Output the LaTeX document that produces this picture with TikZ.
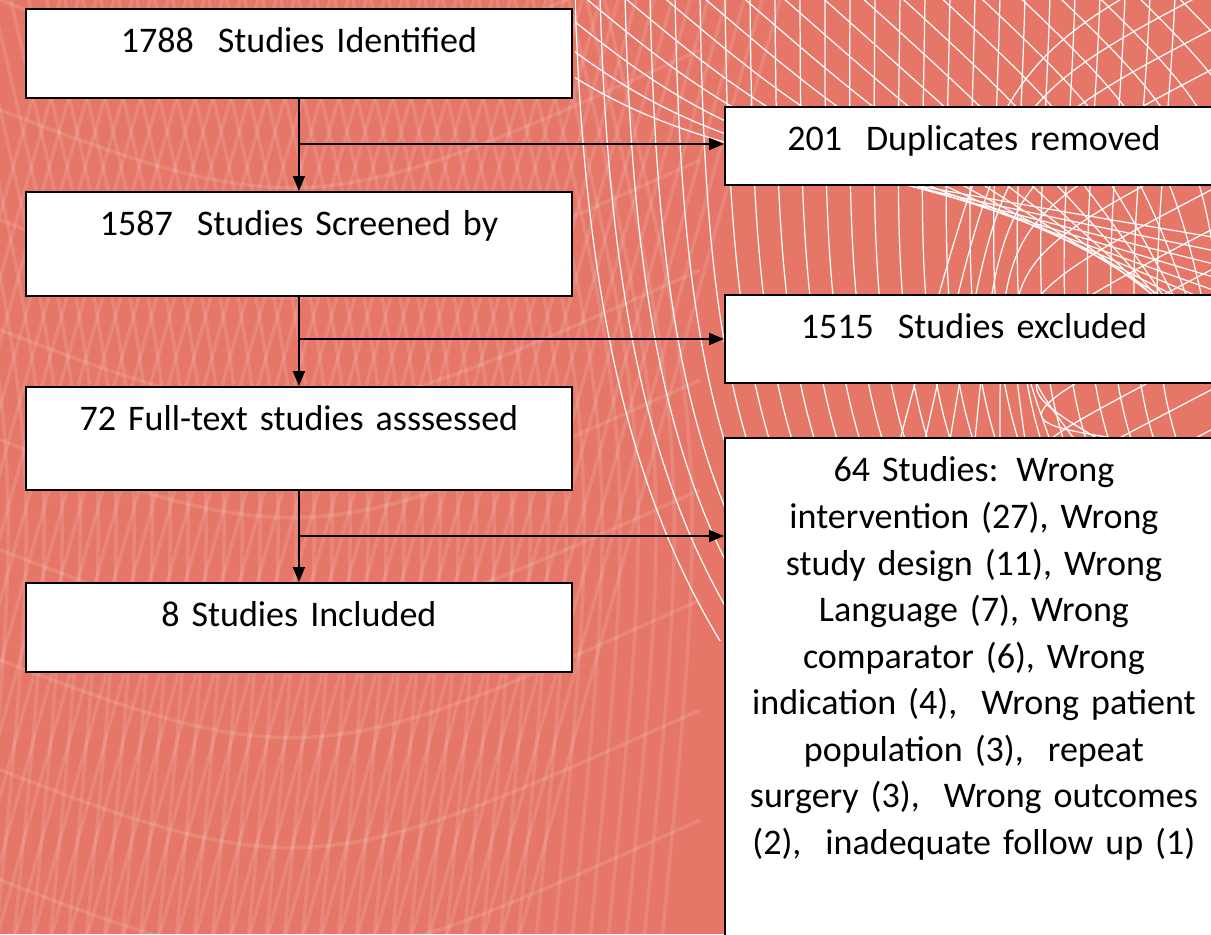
\documentclass[tikz,border=0pt]{standalone}
\usepackage{fontspec}
\setmainfont[WordSpace=0.55]{Carlito}
\usetikzlibrary{arrows.meta}

\definecolor{salmon}{RGB}{230,118,104}

\tikzset{
  box/.style={draw=black, fill=white, line width=1.1pt, align=center,
    inner xsep=0pt, inner ysep=0pt, text height=0.88cm,
    font=\fontsize{20.5}{26.5}\selectfont},
  leftbox/.style={box, text width=10.92cm, anchor=north west},
  rightbox/.style={box, text width=9.96cm, anchor=north west},
  arr/.style={line width=1.1pt, -{Triangle[length=0.3cm, width=0.24cm]}},
  mesh/.style={white, line width=0.7pt},
  faint/.style={white, opacity=0.12, line width=2pt},
}

\begin{document}
\begin{tikzpicture}[x=0.02cm, y=-0.02cm]
\useasboundingbox (0,0) rectangle (1211,934);
\clip (0,0) rectangle (1211,934);
\fill[salmon] (0,0) rectangle (1211,934);

% background pattern
\foreach \i in {0,...,40}
  \draw[faint] (\i*18-200,934) .. controls (\i*18-80,500) .. (\i*18+60,0);
\foreach \i in {0,...,40}
  \draw[faint] (\i*18-60,960) .. controls (\i*18-10,450) .. (\i*18-120,-20);
\foreach \i in {0,...,8}
  \draw[faint] (-100,\i*110-40) .. controls (300,\i*110+120) .. (700,\i*110-60);
\begin{scope}
  \clip (575,0) rectangle (1211,640);
  \foreach \i in {0,...,24}
    \draw[mesh] (575+\i*25,-5) .. controls (585+\i*24,330) and (640+\i*18,540) .. (760+\i*30,700);
  \foreach \i in {0,...,22}
    \draw[mesh] (420+\i*40,-40) .. controls (640+\i*38,140) .. (1230,240+\i*14);
  \foreach \i in {0,...,12}
    \draw[mesh] (1230,\i*40-60) .. controls (1000,\i*40+60) .. (900+\i*25,440);
\end{scope}

% boxes
\node[leftbox, text depth=0.9cm] (ident) at (25,8) {1788\ \ Studies Identified};
\node[leftbox, text depth=1.2cm] (screen) at (25,191) {1587\ \ Studies Screened by};
\node[leftbox, text depth=1.18cm] (full) at (25,386) {72 Full-text studies asssessed};
\node[leftbox, text depth=0.9cm] (incl) at (25,582) {8 Studies Included};

\node[rightbox, text depth=0.68cm] (dupl) at (724,106) {201\ \ Duplicates removed};
\node[rightbox, text depth=0.88cm] (excl) at (724,294) {1515\ \ Studies excluded};
\node[rightbox, text depth=10cm] (why) at (724,437) {64 Studies: Wrong\\
  intervention (27), Wrong\\
  study design (11), Wrong\\
  Language (7), Wrong\\
  comparator (6), Wrong\\
  indication (4),\ \ Wrong patient\\
  population (3),\ \ repeat\\
  surgery (3),\ \ Wrong outcomes\\
  (2),\ \ inadequate follow up (1)};

% connectors
\coordinate (j1) at (298,144);
\coordinate (j2) at (298,339);
\coordinate (j3) at (298,536);

\draw[arr] (ident) -- (screen);
\draw[arr] (screen) -- (full);
\draw[arr] (full) -- (incl);
\draw[arr] (j1) -- (j1 -| dupl.west);
\draw[arr] (j2) -- (j2 -| excl.west);
\draw[arr] (j3) -- (j3 -| why.west);
\end{tikzpicture}
\end{document}
